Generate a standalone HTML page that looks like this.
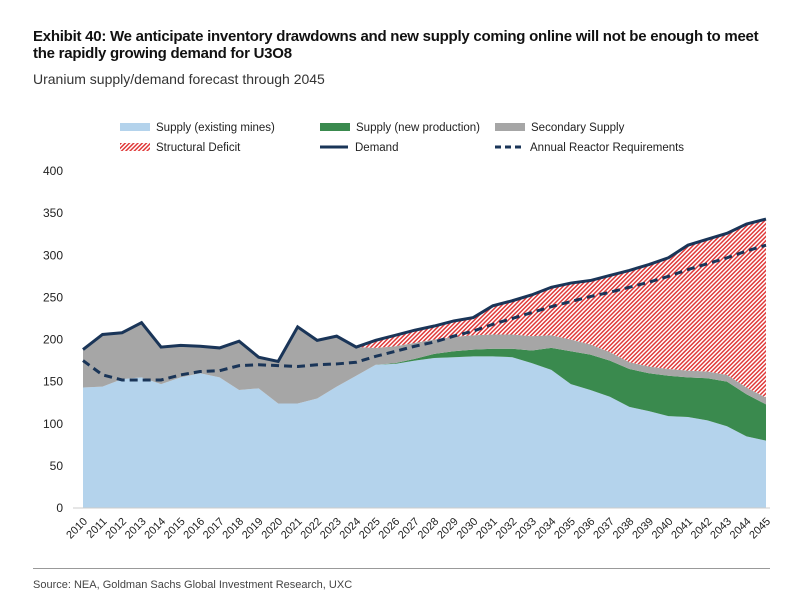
<!DOCTYPE html>
<html><head><meta charset="utf-8"><style>
body{margin:0;background:#fff;font-family:"Liberation Sans",Arial,sans-serif;}
#wrap{position:relative;width:810px;height:602px;overflow:hidden;}
.t{position:absolute;left:33px;font-weight:bold;font-size:15px;color:#111;letter-spacing:-0.25px;}
</style></head><body>
<div id="wrap">
<div class="t" style="top:28px">Exhibit 40: We anticipate inventory drawdowns and new supply coming online will not be enough to meet<br>the rapidly growing demand for U3O8</div>
<div style="position:absolute;left:33px;top:71px;font-size:14px;color:#333">Uranium supply/demand forecast through 2045</div>
<svg id="chart" width="810" height="602" style="position:absolute;left:0;top:0">
<defs><pattern id="hatch" patternUnits="userSpaceOnUse" width="3" height="3" patternTransform="rotate(45)"><rect width="3" height="3" fill="#fff"/><rect width="1.5" height="3" fill="#e03a3a"/></pattern></defs>
</svg>
<div style="position:absolute;left:33px;top:568px;width:737px;border-top:1px solid #999"></div>
<div style="position:absolute;left:33px;top:579px;font-size:11px;color:#444">Source: NEA, Goldman Sachs Global Investment Research, UXC</div>
</div>
<script>
const years=[2010,2011,2012,2013,2014,2015,2016,2017,2018,2019,2020,2021,2022,2023,2024,2025,2026,2027,2028,2029,2030,2031,2032,2033,2034,2035,2036,2037,2038,2039,2040,2041,2042,2043,2044,2045];
const existing=[143,144,153,155,147,155,160,155,140,142,124,124,130,144,157,170,171,175,178,179,180,180,179,172,164,147,140,132,120,115,109,108,104,97,85,80];
const newProd=[0,0,0,0,0,0,0,0,0,0,0,0,0,0,0,0,1,2,5,7,8,9,10,15,26,39,42,43,45,45,48,47,50,53,50,43];
const secondary=[45,62,55,65,44,38,32,35,58,37,50,91,69,60,34,20,20,19,17,17,17,17,17,17,15,14,12,10,8,8,8,8,8,8,8,8];
const demand=[188,206,208,220,191,193,192,190,198,179,174,215,199,204,191,199,205,211,216,222,226,240,246,253,262,267,270,276,282,289,297,312,319,326,337,343];
const reactor=[175,158,152,152,152,158,162,163,169,170,169,168,170,171,173,180,186,192,197,204,210,218,225,232,239,245,251,256,262,268,275,283,290,297,305,312];
const yTicks=[0,50,100,150,200,250,300,350,400];

const svg=document.getElementById('chart');const NS='http://www.w3.org/2000/svg';
const x0=83,x1=766,y0=508,yTop=171;
const X=i=>x0+(x1-x0)*i/(years.length-1);
const Y=v=>y0-(y0-yTop)*v/400;
function mk(t,a){const e=document.createElementNS(NS,t);for(const k in a)e.setAttribute(k,a[k]);svg.appendChild(e);return e;}
function area(lo,hi,fill,name){let d='M'+lo.map((v,i)=>X(i)+','+Y(v)).join('L');for(let i=hi.length-1;i>=0;i--)d+='L'+X(i)+','+Y(hi[i]);const p=mk('path',{d:d+'Z',fill:fill});

}
const zero=years.map(()=>0);
const s1=existing.slice();
const s2=s1.map((v,i)=>v+newProd[i]);
const s3=s2.map((v,i)=>Math.min(v+secondary[i],demand[i]));
area(zero,s1,'#b4d3ec','area-existing-mines');
area(s1,s2,'#3a8a4e','area-new-production');
area(s2,s3,'#a6a6a6','area-secondary-supply');
area(s3,demand.map((v,i)=>Math.max(v,s3[i])),'url(#hatch)','area-structural-deficit');
const dl=mk('path',{d:'M'+demand.map((v,i)=>X(i)+','+Y(v)).join('L'),fill:'none',stroke:'#1a3558','stroke-width':3});


const rl=mk('path',{d:'M'+reactor.map((v,i)=>X(i)+','+Y(v)).join('L'),fill:'none',stroke:'#1a3558','stroke-width':3,'stroke-dasharray':'8,5'});


const ax=mk('line',{x1:73,x2:770,y1:y0,y2:y0,stroke:'#ccc','stroke-width':1});


yTicks.forEach(v=>{const t=mk('text',{x:63,y:Y(v)+4,'text-anchor':'end','font-size':12,fill:'#222','font-family':'Liberation Sans'});t.textContent=v;

});
years.forEach((yr,i)=>{const t=mk('text',{x:X(i)+5,y:y0+14,'text-anchor':'end','font-size':11,fill:'#222','font-family':'Liberation Sans',transform:`rotate(-45 ${X(i)+5} ${y0+14})`});t.textContent=yr;

});
const leg=[[120,128,'rect','#b4d3ec','Supply (existing mines)'],[320,128,'rect','#3a8a4e','Supply (new production)'],[495,128,'rect','#a6a6a6','Secondary Supply'],[120,148,'rect','url(#hatch)','Structural Deficit'],[320,148,'line','','Demand'],[495,148,'dash','','Annual Reactor Requirements']];
leg.forEach(l=>{const [lx,ly,k,f,txt]=l;
if(k==='rect'){const r=mk('rect',{x:lx,y:ly-5,width:30,height:8,fill:f});}
else{const r=mk('line',{x1:lx,x2:lx+28,y1:ly-1,y2:ly-1,stroke:'#1a3558','stroke-width':3,'stroke-dasharray':k==='dash'?'6,4':'none'});}
const t=mk('text',{x:lx+(k==='rect'?36:35),y:ly+3,'font-size':11.5,fill:'#222','font-family':'Liberation Sans'});t.textContent=txt;

});
</script>
</body></html>
